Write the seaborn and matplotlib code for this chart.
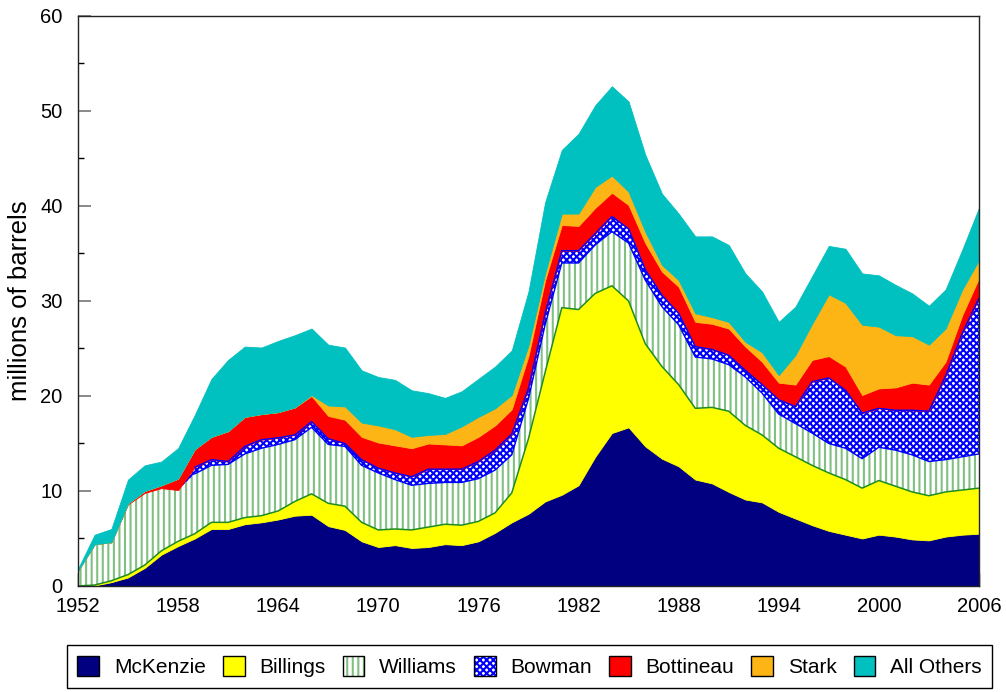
import numpy as np
import matplotlib
matplotlib.use("Agg")
import matplotlib.pyplot as plt
import seaborn as sns
from matplotlib.patches import Patch
from matplotlib.legend_handler import HandlerTuple
from matplotlib.ticker import MultipleLocator, FixedLocator, FuncFormatter

years = list(range(1952, 2007))

mckenzie = [0.0, 0.05, 0.4, 0.9, 1.9, 3.3, 4.2, 5.0, 6.0, 6.0,
            6.5, 6.7, 7.0, 7.4, 7.5, 6.3, 5.9, 4.7, 4.1, 4.3,
            4.0, 4.1, 4.4, 4.3, 4.7, 5.6, 6.7, 7.6, 8.9, 9.6,
            10.6, 13.6, 16.1, 16.7, 14.7, 13.4, 12.6, 11.2, 10.8, 9.9,
            9.1, 8.8, 7.8, 7.1, 6.4, 5.8, 5.4, 5.0, 5.4, 5.2,
            4.9, 4.8, 5.2, 5.4, 5.5]
billings = [0.0, 0.05, 0.15, 0.3, 0.3, 0.4, 0.5, 0.5, 0.7, 0.7,
            0.7, 0.7, 0.9, 1.5, 2.2, 2.4, 2.5, 2.0, 1.8, 1.7,
            1.9, 2.1, 2.1, 2.1, 2.1, 2.1, 3.1, 7.9, 13.6, 19.7,
            18.5, 17.2, 15.5, 13.3, 10.8, 9.7, 8.6, 7.5, 8.0, 8.5,
            7.8, 7.1, 6.7, 6.5, 6.3, 6.1, 5.8, 5.3, 5.7, 5.3,
            5.0, 4.7, 4.7, 4.7, 4.8]
williams = [1.6, 4.3, 4.05, 7.4, 7.6, 6.6, 5.4, 6.3, 6.0, 6.1,
            6.7, 7.1, 7.0, 6.5, 7.0, 6.2, 6.3, 6.0, 6.0, 5.2,
            4.7, 4.6, 4.4, 4.5, 4.5, 4.5, 4.0, 4.2, 5.0, 4.7,
            4.9, 5.1, 5.7, 6.1, 6.7, 6.3, 6.3, 5.4, 5.1, 4.9,
            5.1, 4.4, 3.6, 3.5, 3.4, 3.1, 3.3, 3.1, 3.5, 3.8,
            3.9, 3.6, 3.4, 3.5, 3.6]
bowman = [0.0, 0.0, 0.0, 0.0, 0.0, 0.0, 0.0, 0.7, 0.6, 0.3,
          0.8, 0.9, 0.7, 0.5, 0.6, 0.6, 0.3, 0.6, 0.5, 0.7,
          0.9, 1.5, 1.4, 1.4, 1.8, 2.1, 2.2, 1.1, 1.2, 1.3,
          1.3, 1.2, 1.6, 1.5, 1.1, 1.2, 1.2, 1.1, 1.0, 1.0,
          0.7, 0.9, 1.5, 1.8, 5.4, 6.9, 6.1, 4.8, 4.1, 4.2,
          4.7, 5.3, 8.8, 13.0, 16.4]
bottineau = [0.0, 0.0, 0.0, 0.1, 0.2, 0.3, 1.2, 1.9, 2.4, 3.2,
             3.1, 2.7, 2.7, 2.9, 2.7, 2.4, 2.5, 2.4, 2.7, 2.9,
             3.0, 2.7, 2.6, 2.5, 2.6, 2.6, 2.6, 3.4, 3.5, 2.7,
             2.6, 2.7, 2.5, 2.5, 2.8, 2.5, 2.8, 2.6, 2.7, 2.8,
             2.5, 2.4, 1.8, 2.3, 2.3, 2.3, 2.5, 1.9, 2.1, 2.4,
             2.9, 2.8, 1.5, 1.9, 2.1]
stark = [0.0, 0.0, 0.0, 0.0, 0.0, 0.0, 0.0, 0.0, 0.0, 0.0,
         0.0, 0.0, 0.0, 0.0, 0.1, 1.1, 1.4, 1.5, 1.8, 1.7,
         1.2, 0.9, 1.1, 2.0, 2.1, 1.8, 1.5, 1.1, 0.7, 1.2,
         1.3, 2.2, 1.8, 1.4, 1.2, 0.7, 0.7, 0.9, 0.7, 0.7,
         0.5, 1.0, 0.8, 3.1, 3.8, 6.5, 6.7, 7.4, 6.5, 5.5,
         4.9, 4.2, 3.5, 2.7, 1.9]
all_others = [0.2, 1.0, 1.4, 2.5, 2.7, 2.5, 3.2, 3.6, 6.1, 7.5,
              7.4, 7.0, 7.5, 7.6, 7.0, 6.4, 6.2, 5.5, 5.1, 5.2,
              4.9, 4.4, 3.8, 3.7, 4.0, 4.4, 4.7, 5.7, 7.5, 6.7,
              8.4, 8.6, 9.4, 9.5, 8.1, 7.5, 7.0, 8.1, 8.5, 8.1,
              7.2, 6.4, 5.6, 5.1, 5.0, 5.1, 5.7, 5.4, 5.4, 5.3,
              4.5, 4.1, 4.1, 4.2, 5.5]

labels = ["McKenzie", "Billings", "Williams", "Bowman", "Bottineau", "Stark", "All Others"]
year_labels = [str(y) for y in years[::6]]

sns.set_theme(style="ticks")
plt.rcParams["font.family"] = ["Liberation Sans", "DejaVu Sans"]
plt.rcParams["hatch.linewidth"] = 1.5
plt.rcParams["text.color"] = "black"
plt.rcParams["xtick.color"] = "black"
plt.rcParams["ytick.color"] = "black"
plt.rcParams["axes.labelcolor"] = "black"

NAVY, YEL, RED, ORG, TEAL = "#000080", "#FFFF00", "#FF0000", "#FDB515", "#00C0C0"
GREEN_H, BLUE = "#80C080", "#0000FF"

fig = plt.figure(figsize=(10.06, 6.92), dpi=100)
ax = fig.add_axes([0.0775, 0.1532, 0.8956, 0.8237])

series = [mckenzie, billings, williams, bowman, bottineau, stark, all_others]
colors = [NAVY, YEL, "white", "white", RED, ORG, TEAL]
polys = ax.stackplot(years, *series, colors=colors, linewidth=0)
for p, c in zip(polys, colors):
    p.set_edgecolor(c)
    p.set_linewidth(0.6)
polys[2].set_hatch("|||")
polys[2].set_edgecolor(GREEN_H)
polys[2].set_linewidth(0)
polys[3].set_hatch("xxxxx")
polys[3].set_edgecolor(BLUE)
polys[3].set_linewidth(0)

cum = np.cumsum(np.array(series), axis=0)
sns.lineplot(x=years, y=cum[1], color="#1E8C1E", lw=1.1, ax=ax)
sns.lineplot(x=years[7:], y=cum[2][7:], color=BLUE, lw=1.0, ax=ax)
sns.lineplot(x=years[7:], y=cum[3][7:], color=BLUE, lw=1.0, ax=ax)

ax.set_xlim(1952, 2006)
ax.set_ylim(0, 60)
ax.xaxis.set_major_locator(FixedLocator(years[::3]))
ax.xaxis.set_minor_locator(FixedLocator(years))
ax.xaxis.set_major_formatter(FuncFormatter(
    lambda v, p: str(int(round(v))) if str(int(round(v))) in year_labels else ""))
ax.yaxis.set_major_locator(MultipleLocator(10))
ax.yaxis.set_minor_locator(MultipleLocator(5))
ax.tick_params(axis="both", which="both", direction="in")
ax.tick_params(axis="x", which="major", length=9.5, width=1.0, color="black",
               labelsize=14.5, pad=8)
ax.tick_params(axis="x", which="minor", length=4.5, width=1.0, color="black")
ax.tick_params(axis="y", which="major", length=9.5, width=1.3, color="#808080",
               labelsize=14.5, pad=11)
ax.tick_params(axis="y", which="minor", length=4.5, width=1.0, color="black")
for s in ax.spines.values():
    s.set_color("#222222")
    s.set_linewidth(1.0)
    s.set_visible(True)
    s.set_zorder(5)
ax.set_ylabel("millions of barrels", fontsize=18.5, labelpad=6)
ax.set_xlabel("")

handles = []
for lab, c in zip(labels, colors):
    if lab == "Williams":
        handles.append((Patch(facecolor="white", edgecolor=GREEN_H, hatch="|||", lw=0),
                        Patch(facecolor="none", edgecolor="black", lw=1)))
    elif lab == "Bowman":
        handles.append((Patch(facecolor="white", edgecolor=BLUE, hatch="xxxxx", lw=0),
                        Patch(facecolor="none", edgecolor="black", lw=1)))
    else:
        handles.append(Patch(facecolor=c, edgecolor="black", lw=1))

leg = fig.legend(handles, labels, handler_map={tuple: HandlerTuple(ndivide=1, pad=0)},
                 loc="center", bbox_to_anchor=(0.0666, 0.003, 0.9195, 0.0679),
                 mode="expand", ncol=7, fontsize=15, handlelength=1.05,
                 handleheight=1.15, handletextpad=0.7, borderpad=0.5,
                 frameon=True, fancybox=False, edgecolor="black", framealpha=1,
                 borderaxespad=0)
leg.get_frame().set_linewidth(1.0)

fig.savefig("out.png", dpi=100)
